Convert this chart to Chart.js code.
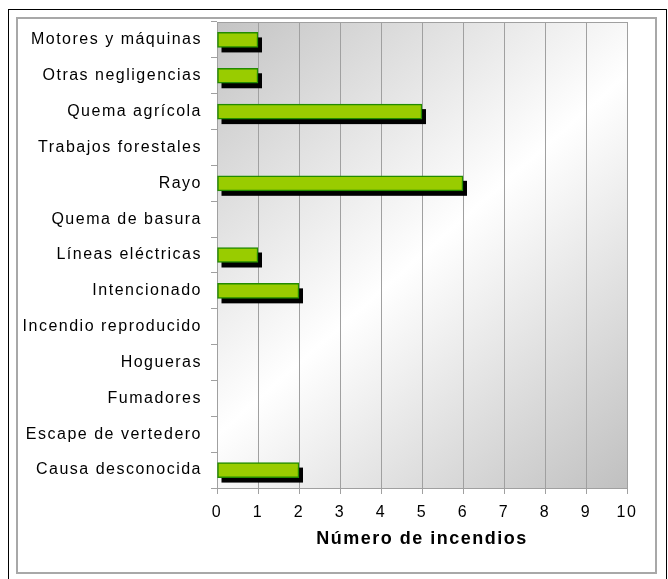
<!DOCTYPE html>
<html>
<head>
<meta charset="utf-8">
<script src="https://cdn.jsdelivr.net/npm/chart.js@4.4.1/dist/chart.umd.min.js"></script>
<style>
  body { margin: 0; background: #fff; }
  .outer { position: absolute; left: 8px; top: 9px; width: 659px; height: 590px; border: 1px solid #000; box-sizing: border-box; }
  .inner { position: absolute; left: 16px; top: 17px; width: 641px; height: 557px; border: 2px solid #a8a8a8; box-sizing: border-box; }
  #wrap { position: absolute; left: 0; top: 0; width: 668px; height: 579px; }
</style>
</head>
<body>
<div class="outer"></div>
<div class="inner"></div>
<div id="wrap"><canvas id="chart"></canvas></div>
<script>
// categories, top to bottom
const causes = ['Motores y máquinas', 'Otras negligencias', 'Quema agrícola', 'Trabajos forestales', 'Rayo',
  'Quema de basura', 'Líneas eléctricas', 'Intencionado', 'Incendio reproducido', 'Hogueras',
  'Fumadores', 'Escape de vertedero', 'Causa desconocida'];
const fires = [1, 1, 5, 0, 6, 0, 1, 2, 0, 0, 0, 0, 2];
const xTicks = [0, 1, 2, 3, 4, 5, 6, 7, 8, 9, 10];

// gray gradient behind the plot + top/right frame
const plotBackground = {
  id: 'plotBackground',
  beforeUpdate(chart) { chart.ctx.letterSpacing = '1.5px'; },
  beforeDraw(chart) {
    const { ctx, chartArea: a } = chart;
    ctx.letterSpacing = '1.5px';
    const g = ctx.createLinearGradient(a.left, a.top, a.right, a.bottom);
    g.addColorStop(0, '#c4c4c4');
    g.addColorStop(0.5, '#ffffff');
    g.addColorStop(1, '#c0c0c0');
    ctx.save();
    ctx.fillStyle = g;
    ctx.fillRect(a.left, a.top, a.right - a.left, a.bottom - a.top);
    ctx.strokeStyle = '#a0a0a0';
    ctx.lineWidth = 1;
    ctx.beginPath();
    ctx.moveTo(a.left, a.top + 0.5);
    ctx.lineTo(a.right + 0.5, a.top + 0.5);
    ctx.lineTo(a.right + 0.5, a.bottom);
    ctx.stroke();
    ctx.restore();
  }
};

// black drop shadow under each bar
const barShadow = {
  id: 'barShadow',
  beforeDatasetsDraw(chart) {
    const { ctx } = chart;
    ctx.save();
    ctx.fillStyle = '#000';
    chart.getDatasetMeta(0).data.forEach((bar, i) => {
      if (!fires[i]) return;
      const h = bar.height;
      ctx.fillRect(bar.base + 4, bar.y - h / 2 + 5, bar.x - bar.base, h);
    });
    ctx.restore();
  }
};

const ctx = document.getElementById('chart').getContext('2d');
new Chart(ctx, {
  type: 'bar',
  data: {
    labels: causes,
    datasets: [{
      data: fires,
      backgroundColor: '#99cc00',
      borderColor: '#228b00',
      borderWidth: 1.5,
      borderSkipped: false,
      barThickness: 15
    }]
  },
  options: {
    indexAxis: 'y',
    responsive: true,
    maintainAspectRatio: false,
    animation: false,
    layout: { padding: { left: 0, top: 22, right: 41, bottom: 0 } },
    plugins: {
      legend: { display: false },
      tooltip: { enabled: false }
    },
    scales: {
      x: {
        min: 0,
        max: 10,
        afterBuildTicks(scale) { scale.ticks = xTicks.map(v => ({ value: v })); },
        afterFit(scale) { scale.height = 91; },
        grid: { color: '#a0a0a0', tickLength: 6, tickColor: '#a0a0a0' },
        border: { color: '#a0a0a0' },
        ticks: { color: '#000', padding: 9, maxRotation: 0, font: { family: 'Liberation Sans, Arial', size: 16 } },
        title: {
          display: true,
          text: 'Número de incendios',
          color: '#000',
          font: { family: 'Liberation Sans, Arial', size: 18, weight: 'bold' },
          padding: { top: 4, bottom: 29 }
        }
      },
      y: {
        afterFit(scale) { scale.width = 217; },
        grid: { drawOnChartArea: false, tickLength: 6, tickColor: '#a0a0a0', offset: true },
        border: { color: '#a0a0a0' },
        ticks: { color: '#000', padding: 9, autoSkip: false, font: { family: 'Liberation Sans, Arial', size: 16 } }
      }
    }
  },
  plugins: [plotBackground, barShadow]
});
</script>
</body>
</html>
